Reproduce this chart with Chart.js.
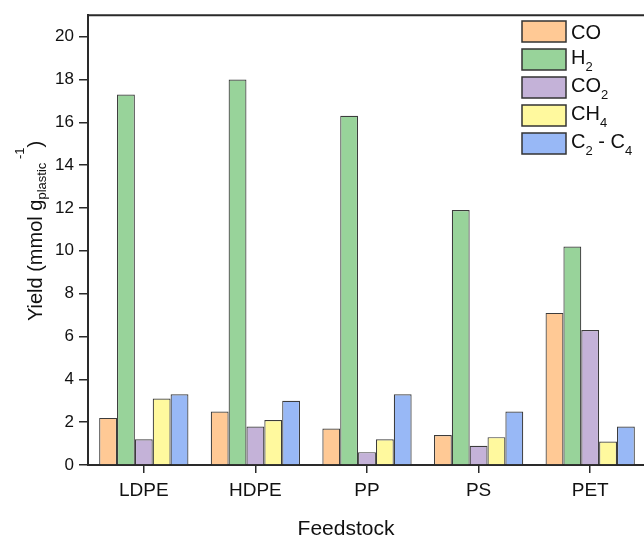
<!DOCTYPE html>
<html>
<head>
<meta charset="utf-8">
<script src="https://cdn.jsdelivr.net/npm/chart.js@4/dist/chart.umd.min.js"></script>
<style>
  html, body { margin: 0; padding: 0; background: #fff; overflow: hidden; }
  #wrap { width: 646px; height: 538px; }
</style>
</head>
<body>
<div id="wrap"><canvas id="yieldChart"></canvas></div>
<script>
// gas yields per feedstock, mmol per g plastic
const feedstocks = ['LDPE', 'HDPE', 'PP', 'PS', 'PET'];
const coYield = [2.2, 2.5, 1.7, 1.4, 7.1];
const h2Yield = [17.3, 18.0, 16.3, 11.9, 10.2];
const co2Yield = [1.2, 1.8, 0.6, 0.9, 6.3];
const ch4Yield = [3.1, 2.1, 1.2, 1.3, 1.1];
const c2c4Yield = [3.3, 3.0, 3.3, 2.5, 1.8];
const yTicks = [0, 2, 4, 6, 8, 10, 12, 14, 16, 18, 20];

// legend text split into [normal, sub, normal, sub...]
const seriesParts = [['CO'], ['H', '2'], ['CO', '2'], ['CH', '4'], ['C', '2', ' - C', '4']];
const seriesColors = ['#FFC995', '#98D39A', '#C4B2D8', '#FFF99E', '#98B8F6'];

const FONT = "'Liberation Sans', Arial, sans-serif";
const INK = '#111';
const LINE = '#2a2a2a';

const mkSet = (i, data) => ({
  label: seriesParts[i].join(''),
  data: data,
  backgroundColor: seriesColors[i],
  borderColor: '#3c3c3c',
  borderWidth: 1.2,
  categoryPercentage: 0.8,
  barPercentage: 1.0
});

// frame, legend and axis titles with sub/superscripts
const extras = {
  id: 'extras',
  afterDraw(chart) {
    const ctx = chart.ctx;
    const a = chart.chartArea;
    ctx.save();

    // top + right edges of the frame
    ctx.strokeStyle = LINE;
    ctx.lineWidth = 2;
    ctx.beginPath();
    ctx.moveTo(a.left, a.top);
    ctx.lineTo(a.right, a.top);
    ctx.lineTo(a.right, a.bottom);
    ctx.stroke();

    // legend
    chart.data.datasets.forEach((ds, i) => {
      const bx = 522, by = 21 + i * 28;
      ctx.fillStyle = ds.backgroundColor;
      ctx.fillRect(bx, by, 44, 21);
      ctx.strokeStyle = '#333';
      ctx.lineWidth = 1.5;
      ctx.strokeRect(bx, by, 44, 21);

      const parts = seriesParts[i];
      let x = 571;
      const base = by + (parts.length > 1 ? 14.5 : 17.5);
      ctx.fillStyle = INK;
      ctx.textBaseline = 'alphabetic';
      ctx.textAlign = 'left';
      parts.forEach((p, k) => {
        const sub = k % 2 === 1;
        ctx.font = (sub ? '13px ' : '20px ') + FONT;
        ctx.fillText(p, x, base + (sub ? 7 : 0));
        x += ctx.measureText(p).width;
      });
    });

    // x title
    ctx.font = '21px ' + FONT;
    ctx.fillStyle = INK;
    ctx.textAlign = 'center';
    ctx.fillText('Feedstock', 346, 535);

    // y title, rotated, with subscript and superscript
    const runs = [
      { t: 'Yield (mmol g', size: 20, dy: 0 },
      { t: 'plastic', size: 13, dy: 4 },
      { t: ' ', size: 13, dy: 0 },
      { t: '-1', size: 13, dy: -18 },
      { t: ')', size: 20, dy: 0 }
    ];
    let total = 0;
    runs.forEach(r => { ctx.font = r.size + 'px ' + FONT; r.w = ctx.measureText(r.t).width; total += r.w; });
    ctx.translate(42, 231);
    ctx.rotate(-Math.PI / 2);
    ctx.textAlign = 'left';
    let x = -total / 2;
    runs.forEach(r => {
      ctx.font = r.size + 'px ' + FONT;
      ctx.fillText(r.t, x, r.dy);
      x += r.w;
    });
    ctx.restore();
  }
};

new Chart(document.getElementById('yieldChart').getContext('2d'), {
  type: 'bar',
  data: {
    labels: feedstocks,
    datasets: [
      mkSet(0, coYield),
      mkSet(1, h2Yield),
      mkSet(2, co2Yield),
      mkSet(3, ch4Yield),
      mkSet(4, c2c4Yield)
    ]
  },
  options: {
    responsive: true,
    maintainAspectRatio: false,
    animation: false,
    layout: { padding: { top: 15, left: 0, right: 0, bottom: 0 } },
    plugins: {
      legend: { display: false },
      tooltip: { enabled: false }
    },
    scales: {
      x: {
        grid: { offset: false, drawOnChartArea: false, drawTicks: true, tickLength: 8, color: LINE, lineWidth: 1.5 },
        border: { display: true, color: LINE, width: 2 },
        ticks: { color: INK, font: { family: FONT, size: 19 }, padding: 6, maxRotation: 0 },
        afterFit(scale) { scale.height = 73; }
      },
      y: {
        min: 0,
        max: 21,
        afterBuildTicks(scale) { scale.ticks = yTicks.map(v => ({ value: v })); },
        grid: { drawOnChartArea: false, drawTicks: true, tickLength: 9, color: LINE, lineWidth: 1.5 },
        border: { display: true, color: LINE, width: 2 },
        ticks: { color: INK, font: { family: FONT, size: 17 }, padding: 5 },
        afterFit(scale) { scale.width = 88; }
      }
    }
  },
  plugins: [extras]
});
</script>
</body>
</html>
